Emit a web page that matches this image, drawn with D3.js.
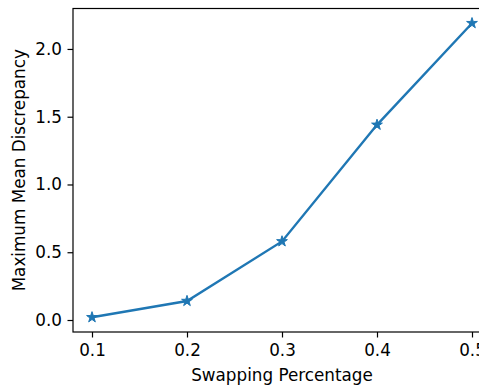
<!DOCTYPE html>
<html>
<head>
<meta charset="utf-8">
<script src="https://cdn.jsdelivr.net/npm/d3@7"></script>
<style>
  body { margin: 0; background: #fff; }
  svg { font-family: "DejaVu Sans", sans-serif; }
</style>
</head>
<body>
<div id="chart"></div>
<script>
// data
var swapPct = [0.1, 0.2, 0.3, 0.4, 0.5];
var mmd = [0.02, 0.14, 0.58, 1.44, 2.19];
var xTicks = [0.1, 0.2, 0.3, 0.4, 0.5];
var yTicks = [0.0, 0.5, 1.0, 1.5, 2.0];

var width = 479, height = 385;
var plotL = 73, plotT = 8.5, plotR = 491, plotB = 332;
var fs = "16.8px";

var svg = d3.select("#chart").append("svg")
    .attr("width", width)
    .attr("height", height);

var x = d3.scaleLinear().domain([0.08, 0.52]).range([plotL, plotR]);
var y = d3.scaleLinear().domain([-0.0885, 2.2985]).range([plotB, plotT]);

var xAxis = svg.append("g")
    .attr("transform", "translate(0," + plotB + ")")
    .call(d3.axisBottom(x).tickValues(xTicks).tickFormat(d3.format(".1f")).tickSizeOuter(0).tickSize(5.5).tickPadding(6.5));
var yAxis = svg.append("g")
    .attr("transform", "translate(" + plotL + ",0)")
    .call(d3.axisLeft(y).tickValues(yTicks).tickFormat(d3.format(".1f")).tickSizeOuter(0).tickSize(5.5).tickPadding(5.5));

[xAxis, yAxis].forEach(function(g){
  g.selectAll("text").style("font-size", fs).style("font-family", "DejaVu Sans").attr("fill", "#000");
  g.selectAll("line").attr("stroke", "#000").attr("stroke-width", 1.2);
  g.select(".domain").remove();
});

// frame
svg.append("rect")
    .attr("x", plotL).attr("y", plotT)
    .attr("width", plotR - plotL).attr("height", plotB - plotT)
    .attr("fill", "none").attr("stroke", "#000").attr("stroke-width", 1.2);

var line = d3.line()
    .x(function(d, i){ return x(swapPct[i]); })
    .y(function(d){ return y(d); });

svg.append("path")
    .datum(mmd)
    .attr("d", line)
    .attr("fill", "none")
    .attr("stroke", "#1f77b4")
    .attr("stroke-width", 2.4);

svg.selectAll(".pt")
    .data(mmd)
    .enter().append("path")
    .attr("class", "pt")
    .attr("transform", function(d, i){ return "translate(" + x(swapPct[i]) + "," + y(d) + ")"; })
    .attr("d", d3.symbol().type(d3.symbolStar).size(36))
    .attr("fill", "#1f77b4")
    .attr("stroke", "#1f77b4")
    .attr("stroke-width", 1);

svg.append("text")
    .attr("x", (plotL + plotR) / 2)
    .attr("y", 381)
    .attr("text-anchor", "middle")
    .style("font-size", fs)
    .text("Swapping Percentage");

svg.append("text")
    .attr("transform", "translate(25," + ((plotT + plotB) / 2) + ") rotate(-90)")
    .attr("text-anchor", "middle")
    .style("font-size", fs)
    .text("Maximum Mean Discrepancy");
</script>
</body>
</html>
